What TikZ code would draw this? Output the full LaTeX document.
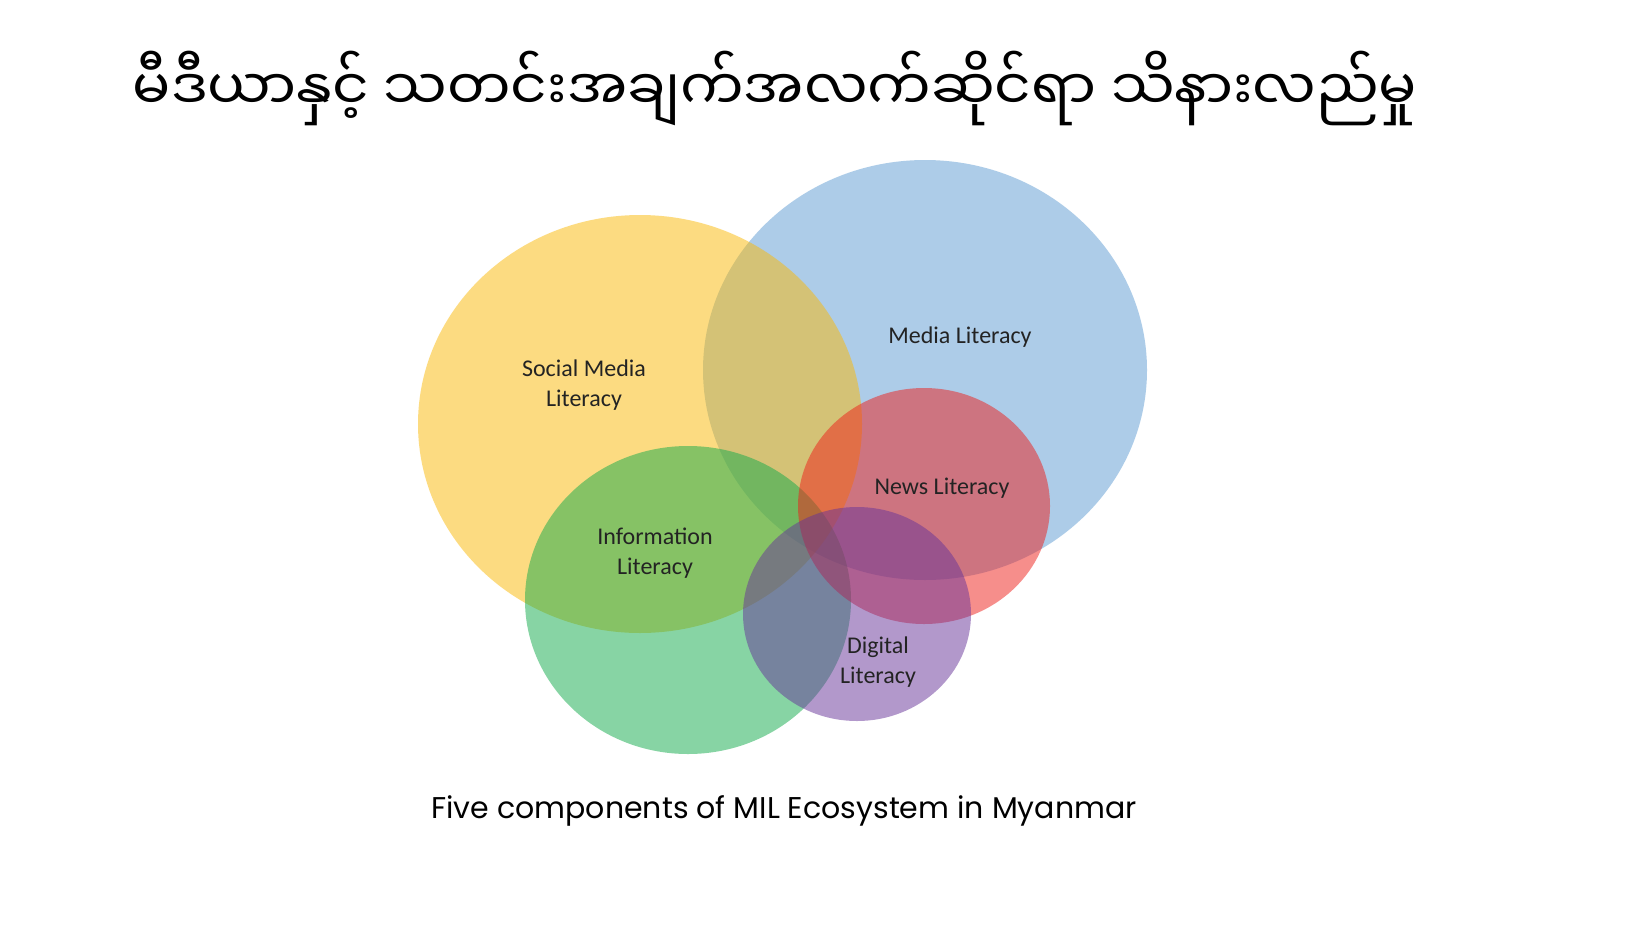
\documentclass[tikz,border=0pt]{standalone}
\usepackage{fontspec}
\setmainfont{Carlito}
\newfontfamily\mmfont[Script=Myanmar]{Noto Sans Myanmar UI}
\newfontfamily\capfont{Poppins}
\definecolor{cblue}{RGB}{93,155,211}
\definecolor{cyellow}{RGB}{251,185,5}
\definecolor{cgreen}{RGB}{17,171,75}
\definecolor{cred}{RGB}{238,30,25}
\definecolor{cpurple}{RGB}{103,51,153}
\definecolor{labtext}{RGB}{35,35,35}
\tikzset{
  blob/.style={fill opacity=0.5},
  lab/.style={font=\fontsize{24}{30}\selectfont, text=labtext, align=center, inner sep=0pt},
}
\begin{document}
\begin{tikzpicture}[x=1pt,y=-1pt]
\useasboundingbox[fill=white] (0,0) rectangle (1640,924);
\fill[cblue,blob] (925,370) ellipse [x radius=222pt, y radius=210pt];
\fill[cyellow,blob] (640,424) ellipse [x radius=222pt, y radius=209pt];
\fill[cgreen,blob] (688,600) ellipse [x radius=163pt, y radius=154pt];
\fill[cred,blob] (924,506) ellipse [x radius=126pt, y radius=118pt];
\fill[cpurple,blob] (857,614) ellipse [x radius=114pt, y radius=107pt];
\node[lab] (sml) at (584,385) {Social Media\\Literacy};
\node[lab] (ml) at (960,337) {Media Literacy};
\node[lab] (nl) at (942,488) {News Literacy};
\node[lab] (il) at (655,553) {Information\\Literacy};
\node[lab] (dl) at (878,662) {Digital\\Literacy};
\node[inner sep=0pt, anchor=base] (title) at (775,110) {\mmfont\fontsize{56.5}{66}\selectfont မီဒီယာနှင့် သတင်းအချက်အလက်ဆိုင်ရာ သိနားလည်မှု};
\node[inner sep=0pt, anchor=base] (cap) at (784,818) {\capfont\fontsize{30}{36}\selectfont Five components of MIL Ecosystem in Myanmar};
\end{tikzpicture}
\end{document}
